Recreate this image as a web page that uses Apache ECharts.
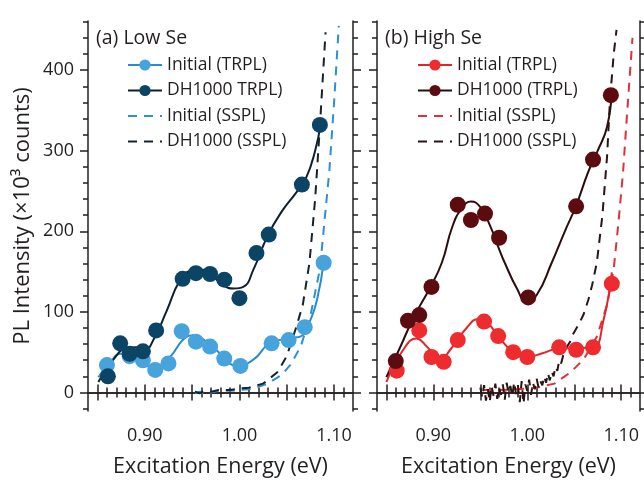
<!DOCTYPE html>
<html>
<head>
<meta charset="UTF-8">
<title>PL Intensity vs Excitation Energy</title>
<style>
  html, body { margin: 0; padding: 0; background: #fff; }
  #main { width: 644px; height: 483px; }
</style>
<script src="https://cdn.jsdelivr.net/npm/echarts@6/dist/echarts.min.js"></script>
</head>
<body>
<div id="main"></div>
<script>
// ---- panel (a) Low Se ----
var aInitE = [0.860, 0.884, 0.898, 0.911, 0.925, 0.939, 0.954, 0.969, 0.984, 1.001, 1.034, 1.052, 1.069, 1.089];
var aInitV = [34, 45, 40, 28, 36, 76, 63, 57, 42, 33, 61, 65, 81, 161];
var aDhE = [0.861, 0.874, 0.884, 0.898, 0.912, 0.940, 0.954, 0.969, 0.984, 1.000, 1.018, 1.031, 1.066, 1.085];
var aDhV = [20, 61, 48, 51, 77, 141, 148, 147, 140, 117, 173, 196, 258, 332];
// fit curves
var aInitFitE = [0.851, 0.863, 0.875, 0.885, 0.893, 0.902, 0.912, 0.926, 0.944, 0.951, 0.965, 0.983, 0.997, 1.015, 1.032, 1.053, 1.067, 1.075, 1.082, 1.089];
var aInitFitV = [19, 37, 48, 47, 40, 33, 31, 43, 69, 71, 63, 45, 33, 41, 61, 67, 71, 90, 115, 161];
var aDhFitE = [0.851, 0.867, 0.881, 0.891, 0.900, 0.909, 0.923, 0.937, 0.948, 0.958, 0.969, 0.983, 0.994, 1.004, 1.015, 1.030, 1.045, 1.060, 1.070, 1.080, 1.086];
var aDhFitV = [13, 41, 55, 56, 53, 65, 101, 139, 151, 153, 147, 133, 129, 131, 153, 195, 225, 248, 265, 300, 335];
// steady state PL
var aInitSsE = [0.953, 0.958, 0.963, 0.970, 0.978, 0.990, 1.000, 1.010, 1.020, 1.030, 1.045, 1.055, 1.065, 1.075, 1.085, 1.095, 1.100, 1.105];
var aInitSsV = [-1, 1, -2, 0, 2, 2, 3, 4, 7, 11, 22, 36, 58, 95, 153, 275, 360, 455];
var aDhSsE = [0.953, 0.958, 0.963, 0.970, 0.978, 0.990, 1.000, 1.010, 1.025, 1.040, 1.050, 1.060, 1.067, 1.074, 1.080, 1.085, 1.091];
var aDhSsV = [1, -1, 2, 1, 3, 3, 5, 6, 11, 25, 45, 81, 109, 161, 240, 330, 447];

// ---- panel (b) High Se ----
var bInitE = [0.861, 0.885, 0.898, 0.911, 0.926, 0.954, 0.969, 0.985, 1.000, 1.034, 1.052, 1.070, 1.090];
var bInitV = [27, 77, 44, 38, 65, 88, 70, 50, 44, 56, 53, 56, 135];
var bDhE = [0.860, 0.873, 0.885, 0.898, 0.926, 0.940, 0.955, 0.970, 1.001, 1.052, 1.070, 1.089];
var bDhV = [39, 89, 96, 131, 233, 214, 222, 192, 118, 231, 289, 369];
var bInitFitE = [0.850, 0.868, 0.882, 0.893, 0.907, 0.918, 0.936, 0.948, 0.957, 0.971, 0.985, 0.999, 1.017, 1.035, 1.053, 1.070, 1.081, 1.090];
var bInitFitV = [13, 53, 67, 57, 41, 53, 81, 91, 87, 67, 50, 44, 49, 55, 55, 56, 89, 149];
var bDhFitE = [0.850, 0.865, 0.879, 0.896, 0.909, 0.920, 0.930, 0.940, 0.950, 0.960, 0.970, 0.976, 0.989, 0.999, 1.010, 1.026, 1.040, 1.052, 1.065, 1.075, 1.085, 1.090];
var bDhFitV = [19, 57, 93, 129, 161, 205, 228, 237, 230, 208, 178, 161, 129, 113, 121, 161, 200, 232, 274, 300, 330, 375];
var bInitSsE = [0.953, 0.970, 0.990, 1.010, 1.029, 1.046, 1.060, 1.074, 1.085, 1.092, 1.097, 1.102, 1.106, 1.112];
var bInitSsV = [3, 3, 4, 6, 11, 25, 41, 69, 109, 153, 210, 274, 342, 440];
var bDhSsE = [0.950, 0.952, 0.954, 0.956, 0.958, 0.960, 0.962, 0.964, 0.966, 0.968, 0.970, 0.972, 0.974, 0.976, 0.978, 0.980, 0.982, 0.984, 0.986, 0.988, 0.990, 0.992, 0.994, 0.996, 0.998, 1.000, 1.002, 1.004, 1.006, 1.008, 1.010, 1.012, 1.014, 1.016, 1.018, 1.020, 1.022, 1.024, 1.026, 1.028, 1.030, 1.032, 1.034, 1.036, 1.038, 1.040, 1.043, 1.046, 1.049, 1.055, 1.060, 1.065, 1.069, 1.074, 1.080, 1.085, 1.088, 1.092, 1.095];
var bDhSsV = [6, -6, 9, -10, 4, -12, 8, -4, 11, -8, 6, -3, 10, -9, 12, 0, 8, -5, 13, -2, 9, -12, 14, -14, 10, 2, 16, -3, 12, 4, 17, 6, 14, 9, 20, 12, 24, 15, 26, 20, 32, 27, 40, 36, 45, 52, 58, 64, 73, 85, 97, 115, 133, 161, 220, 294, 362, 420, 450];

// axes
var xMin = 0.84, xMax = 1.12;
var yMin = -23, yMax = 461;
var xLabels = [0.90, 1.00, 1.10];
var xMajor = [0.85, 0.90, 0.95, 1.00, 1.05, 1.10];
var yLabels = [0, 100, 200, 300, 400];

var xMinor = [];
for (var i = 85; i <= 111; i++) xMinor.push(i / 100);
var yMinor = [];
for (var j = -20; j <= 460; j += 20) yMinor.push(j);

var ink = '#231f20';
var font = 'Open Sans';

function pairs(xs, ys) {
    return xs.map(function (x, i) { return [x, ys[i]]; });
}

function xAxes(g) {
    var ls = { color: ink, width: 1.5 };
    var base = { gridIndex: g, type: 'value', min: xMin, max: xMax, splitLine: { show: false } };
    return [
        Object.assign({}, base, {
            position: 'bottom',
            axisLine: { show: true, lineStyle: ls },
            axisTick: { show: true, customValues: xMajor, length: 8, lineStyle: ls },
            axisLabel: { show: true, customValues: xLabels, formatter: function (v) { return v.toFixed(2); },
                fontSize: 18, color: ink, fontFamily: font, margin: 16 },
            name: 'Excitation Energy (eV)', nameLocation: 'middle', nameGap: 45,
            nameTextStyle: { fontSize: 21.5, color: ink, fontFamily: font }
        }),
        Object.assign({}, base, {
            position: 'bottom', axisLine: { show: false },
            axisTick: { show: true, customValues: xMinor, length: 5, lineStyle: ls },
            axisLabel: { show: false }
        }),
        Object.assign({}, base, {
            position: 'top', axisLine: { show: true, lineStyle: ls },
            axisTick: { show: true, customValues: xMajor, length: 8, lineStyle: ls },
            axisLabel: { show: false }
        }),
        Object.assign({}, base, {
            position: 'top', axisLine: { show: false },
            axisTick: { show: true, customValues: xMinor, length: 5, lineStyle: ls },
            axisLabel: { show: false }
        })
    ];
}

function yAxes(g, withLabels) {
    var ls = { color: ink, width: 1.5 };
    var base = { gridIndex: g, type: 'value', min: yMin, max: yMax, splitLine: { show: false } };
    var main = Object.assign({}, base, {
        position: 'left', axisLine: { show: true, lineStyle: ls },
        axisTick: { show: true, customValues: yLabels, length: 8, lineStyle: ls },
        axisLabel: { show: withLabels, customValues: yLabels, fontSize: 18, color: ink, fontFamily: font, margin: 14 }
    });
    if (withLabels) {
        main.name = 'PL Intensity (×10³ counts)';
        main.nameLocation = 'middle';
        main.nameGap = 54;
        main.nameTextStyle = { fontSize: 22, color: ink, fontFamily: font };
    }
    return [
        main,
        Object.assign({}, base, {
            position: 'left', axisLine: { show: false },
            axisTick: { show: true, customValues: yMinor, length: 5, lineStyle: ls },
            axisLabel: { show: false }
        }),
        Object.assign({}, base, {
            position: 'right', axisLine: { show: true, lineStyle: ls },
            axisTick: { show: true, customValues: yLabels, length: 8, lineStyle: ls },
            axisLabel: { show: false }
        }),
        Object.assign({}, base, {
            position: 'right', axisLine: { show: false },
            axisTick: { show: true, customValues: yMinor, length: 5, lineStyle: ls },
            axisLabel: { show: false }
        })
    ];
}

function fitSeries(name, g, xs, ys, lineColor, dotColor) {
    return {
        name: name, type: 'line', xAxisIndex: g * 4, yAxisIndex: g * 4,
        data: pairs(xs, ys), smooth: 0.5, showSymbol: false, symbol: 'circle', symbolSize: 14,
        lineStyle: { color: lineColor, width: 2 }, itemStyle: { color: dotColor }, z: 3
    };
}
function dotSeries(g, xs, ys, color) {
    return {
        type: 'scatter', xAxisIndex: g * 4, yAxisIndex: g * 4,
        data: pairs(xs, ys), symbol: 'circle', symbolSize: 16,
        itemStyle: { color: color, opacity: 1 }, z: 4
    };
}
function ssSeries(name, g, xs, ys, color) {
    return {
        name: name, type: 'line', xAxisIndex: g * 4, yAxisIndex: g * 4,
        data: pairs(xs, ys), smooth: false, symbol: 'none',
        lineStyle: { color: color, width: 2, type: [9, 7] }, itemStyle: { color: color }, z: 2
    };
}

var aNames = ['Initial (TRPL)', 'DH1000 TRPL)', 'Initial (SSPL)', 'DH1000 (SSPL)'];
var bNames = ['Initial (TRPL) [b]', 'DH1000 (TRPL) [b]', 'Initial (SSPL) [b]', 'DH1000 (SSPL) [b]'];

function legendData(names) {
    // dashed SSPL entries carry no dot in their key
    return names.map(function (n, k) {
        return k < 2 ? { name: n } : { name: n, itemStyle: { opacity: 0 } };
    });
}

var legendBase = {
    orient: 'vertical', top: 56, padding: 0, itemWidth: 34, itemHeight: 14, itemGap: 7.5,
    textStyle: { fontSize: 17.5, color: ink, fontFamily: font, lineHeight: 18 },
    formatter: function (n) { return n.replace(' [b]', ''); },
    selectedMode: false
};

var chart = echarts.init(document.getElementById('main'));
chart.setOption({
    animation: false,
    backgroundColor: '#fff',
    textStyle: { fontFamily: font },
    title: [
        { text: '(a) Low Se', left: 96, top: 28, padding: 0, textStyle: { fontSize: 19.5, fontWeight: 'normal', color: ink, fontFamily: font } },
        { text: '(b) High Se', left: 385, top: 28, padding: 0, textStyle: { fontSize: 19.5, fontWeight: 'normal', color: ink, fontFamily: font } }
    ],
    legend: [
        Object.assign({}, legendBase, { left: 127, data: legendData(aNames) }),
        Object.assign({}, legendBase, { left: 417, data: legendData(bNames) })
    ],
    grid: [
        { left: 88, top: 21, width: 265, height: 402 },
        { left: 377, top: 21, width: 263, height: 402 }
    ],
    xAxis: xAxes(0).concat(xAxes(1)),
    yAxis: yAxes(0, true).concat(yAxes(1, false)),
    series: [
        ssSeries(aNames[2], 0, aInitSsE, aInitSsV, '#2e8fd5'),
        ssSeries(aNames[3], 0, aDhSsE, aDhSsV, '#16222e'),
        fitSeries(aNames[0], 0, aInitFitE, aInitFitV, '#2a8bd0', '#47a3dc'),
        fitSeries(aNames[1], 0, aDhFitE, aDhFitV, '#0e1f30', '#0c4466'),
        dotSeries(0, aInitE, aInitV, '#47a3dc'),
        dotSeries(0, aDhE, aDhV, '#0c4466'),

        ssSeries(bNames[2], 1, bInitSsE, bInitSsV, '#e0303a'),
        ssSeries(bNames[3], 1, bDhSsE, bDhSsV, '#2b1414'),
        fitSeries(bNames[0], 1, bInitFitE, bInitFitV, '#e0262b', '#ee2b2f'),
        fitSeries(bNames[1], 1, bDhFitE, bDhFitV, '#2a0e0e', '#5c0b0e'),
        dotSeries(1, bInitE, bInitV, '#ee2b2f'),
        dotSeries(1, bDhE, bDhV, '#5c0b0e')
    ]
});
</script>
</body>
</html>
